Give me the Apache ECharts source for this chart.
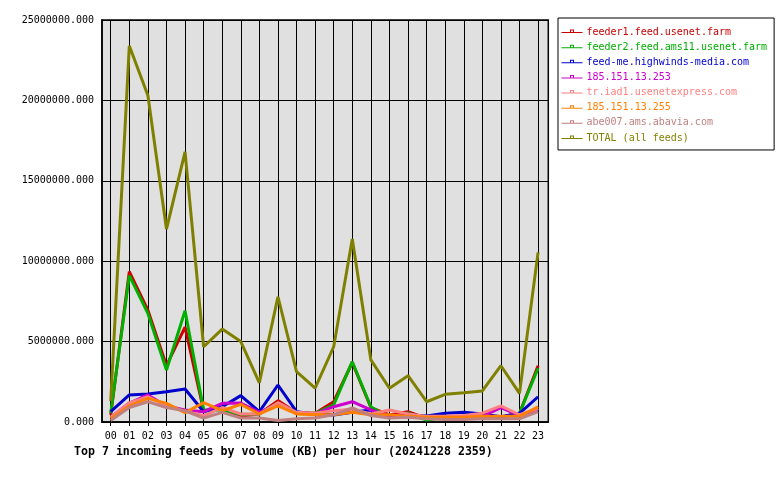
<!DOCTYPE html>
<html>
<head>
<meta charset="utf-8">
<script src="https://cdn.jsdelivr.net/npm/echarts@6/dist/echarts.min.js"></script>
<style>
html,body{margin:0;padding:0;background:#fff;}
#chart{width:780px;height:480px;}
</style>
</head>
<body>
<div id="chart"></div>
<script>
const hours = ['00','01','02','03','04','05','06','07','08','09','10','11','12','13','14','15','16','17','18','19','20','21','22','23'];
const yTicks = [0, 5000000, 10000000, 15000000, 20000000, 25000000];

const seriesNames = ['feeder1.feed.usenet.farm','feeder2.feed.ams11.usenet.farm','feed-me.highwinds-media.com','185.151.13.253','tr.iad1.usenetexpress.com','185.151.13.255','abe007.ams.abavia.com','TOTAL (all feeds)'];
const seriesColors = ['#cc0000','#00b000','#0000cc','#cc00cc','#ff8080','#ff8000','#c08080','#808000'];

const feeder1 = [450000,9350000,6950000,3500000,5900000,700000,800000,370000,500000,1330000,580000,540000,1260000,3700000,900000,440000,640000,230000,330000,330000,300000,300000,540000,3500000];
const feeder2 = [550000,9100000,6750000,3230000,6920000,750000,750000,480000,500000,1180000,550000,540000,1060000,3750000,950000,250000,560000,120000,290000,300000,250000,250000,540000,3340000];
const highwinds = [640000,1680000,1740000,1880000,2050000,640000,950000,1640000,640000,2300000,640000,500000,440000,600000,750000,300000,440000,370000,540000,600000,500000,330000,540000,1570000];
const ip253 = [300000,1180000,1680000,1000000,750000,640000,1160000,1180000,600000,1100000,550000,500000,950000,1260000,750000,350000,500000,250000,300000,300000,350000,900000,400000,800000];
const usenetexpress = [300000,1180000,1570000,1000000,650000,400000,900000,500000,500000,1200000,600000,550000,700000,800000,500000,750000,500000,350000,350000,400000,550000,1000000,450000,850000];
const ip255 = [200000,1000000,1470000,1160000,580000,1200000,700000,1100000,500000,1000000,500000,450000,450000,600000,450000,450000,350000,300000,300000,300000,350000,350000,350000,950000];
const abavia = [100000,900000,1260000,900000,700000,250000,600000,250000,250000,100000,200000,250000,450000,870000,400000,250000,300000,200000,150000,150000,200000,200000,200000,640000];
const total = [1300000,23400000,20300000,12000000,16800000,4680000,5780000,5000000,2440000,7790000,3130000,2110000,4680000,11380000,3860000,2100000,2880000,1260000,1720000,1820000,1930000,3500000,1780000,10550000];

const allData = [feeder1, feeder2, highwinds, ip253, usenetexpress, ip255, abavia, total];
const hourIdx = hours.map((h, i) => i);

const FONT = 'DejaVu Sans Mono';
const chart = echarts.init(document.getElementById('chart'), null, {renderer: 'canvas'});

// legend icon: thin line with a small hollow square marker in the middle (box 21x10)
const legendIcon = 'path://M0,0L0,0Z M21,10L21,10Z M0,5H8.5V2.5H12.5V5H21V6H12.5H8.5H0Z M9.5,3.5V5H11.5V3.5Z';

const series = seriesNames.map((name, k) => ({
  name: name,
  type: 'line',
  data: allData[k].map((v, i) => [hourIdx[i], v]),
  showSymbol: false,
  symbol: 'none',
  lineStyle: {width: 3, color: seriesColors[k]},
  itemStyle: {color: seriesColors[k]},
  animation: false,
  silent: true
}));

chart.setOption({
  backgroundColor: '#ffffff',
  animation: false,
  title: {
    text: 'Top 7 incoming feeds by volume (KB) per hour (20241228 2359)',
    left: 74, top: 446,
    padding: 0,
    textStyle: {fontFamily: FONT, fontSize: 11.6, fontWeight: 'bold', color: '#000'}
  },
  legend: {
    orient: 'vertical',
    left: 558, top: 18,
    padding: [9, 7, 7, 3.5],
    itemWidth: 21, itemHeight: 10, itemGap: 5.14,
    icon: legendIcon,
    backgroundColor: '#ffffff',
    borderColor: '#000', borderWidth: 1,
    textStyle: {fontFamily: FONT, fontSize: 10, padding: [0,0,0,-1]},
    data: seriesNames.map((n, k) => ({name: n, itemStyle: {color: seriesColors[k]}, textStyle: {color: seriesColors[k]}}))
  },
  grid: {
    left: 102, right: 231.7, top: 20, bottom: 58,
    show: true, backgroundColor: '#e0e0e0', borderColor: '#000', borderWidth: 1.5,
    containLabel: false
  },
  xAxis: {
    type: 'value',
    min: -0.47, max: 23.55,
    axisLine: {show: true, onZero: false, lineStyle: {color: '#000', width: 1.5}},
    axisTick: {show: true, inside: false, length: 4, lineStyle: {color: '#000'}, customValues: hourIdx},
    axisLabel: {
      customValues: hourIdx,
      formatter: v => hours[Math.round(v)],
      fontFamily: FONT, fontSize: 10, color: '#000', margin: 9
    },
    splitLine: {show: true, lineStyle: {color: '#000', width: 1}}
  },
  yAxis: {
    type: 'value',
    min: yTicks[0], max: yTicks[yTicks.length - 1], interval: yTicks[1] - yTicks[0],
    axisLine: {show: true, onZero: false, lineStyle: {color: '#000', width: 1.5}},
    axisTick: {show: false},
    axisLabel: {
      formatter: v => v.toFixed(3),
      fontFamily: FONT, fontSize: 10, color: '#000', margin: 8
    },
    splitLine: {show: true, lineStyle: {color: '#000', width: 1}}
  },
  series: series
});
</script>
</body>
</html>
